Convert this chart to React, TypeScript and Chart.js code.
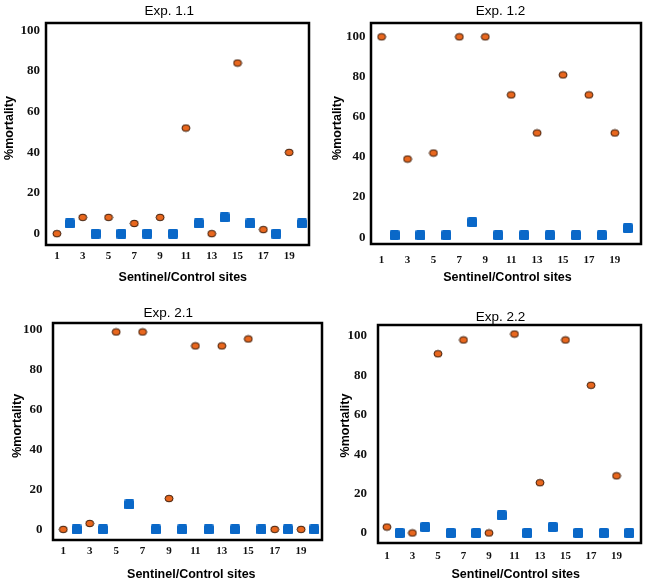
import React, { useEffect, useRef } from 'react';
import { Chart, registerables } from 'chart.js';

Chart.register(...registerables);

const W = 647;
const H = 582;

// ---- data ----
const sentinelSites = [1, 3, 5, 7, 9, 11, 13, 15, 17, 19];
const controlSites = [2, 4, 6, 8, 10, 12, 14, 16, 18, 20];
const xTickValues = [1, 3, 5, 7, 9, 11, 13, 15, 17, 19];
const yTickValues = [0, 20, 40, 60, 80, 100];

const exp11Sentinel = [0, 8, 8, 5, 8, 52, 0, 84, 2, 40];
const exp11Control = [5, 0, 0, 0, 0, 5, 8, 5, 0, 5];
const exp12Sentinel = [100, 39, 42, 100, 100, 71, 52, 81, 71, 52];
const exp12Control = [1, 1, 1, 7.5, 1, 1, 1, 1, 1, 4.5];
const exp21Sentinel = [0, 3, 99, 99, 15.5, 92, 92, 95.5, 0, 0];
const exp21Control = [0, 0, 12.5, 0, 0, 0, 0, 0, 0, 0];
const exp22Sentinel = [3, 0, 91, 98, 0, 101, 25.5, 98, 75, 29];
const exp22Control = [0, 3, 0, 0, 9, 0, 3, 0, 0, 0];

const yAxisTitle = '%mortality';
const xAxisTitle = 'Sentinel/Control sites';

// ---- layout / style ----
const ORANGE = '#E8671E';
const ORANGE_EDGE = '#3A1A08';
const BLUE = '#0A68C8';
const SANS = '"Liberation Sans", Arial, sans-serif';
const SERIF = '"Liberation Serif", "Times New Roman", serif';
const Y_AXIS_W = 40;
const X_AXIS_H = 25;

type PanelCfg = {
  title: string;
  sentinel: number[];
  control: number[];
  area: { l: number; t: number; r: number; b: number };
  x: { min: number; max: number };
  y: { min: number; max: number };
  yPad: number;
  xPad: number;
  titlePos: [number, number];
  yTitlePos: [number, number];
  xTitlePos: [number, number];
};

const panels: PanelCfg[] = [
  {
    title: 'Exp. 1.1', sentinel: exp11Sentinel, control: exp11Control,
    area: { l: 46, t: 23, r: 309, b: 245 }, x: { min: 0.155, max: 20.54 }, y: { min: -5.6, max: 103.7 },
    yPad: 6, xPad: 4.5, titlePos: [169.3, 14.7], yTitlePos: [9.5, 128], xTitlePos: [182.8, 280.5],
  },
  {
    title: 'Exp. 1.2', sentinel: exp12Sentinel, control: exp12Control,
    area: { l: 371, t: 23, r: 642, b: 244 }, x: { min: 0.18, max: 21.02 }, y: { min: -3.4, max: 106.9 },
    yPad: 5.5, xPad: 9.5, titlePos: [500.5, 15], yTitlePos: [338, 128], xTitlePos: [507.5, 281],
  },
  {
    title: 'Exp. 2.1', sentinel: exp21Sentinel, control: exp21Control,
    area: { l: 53, t: 323, r: 322, b: 540 }, x: { min: 0.22, max: 20.58 }, y: { min: -5.3, max: 103.5 },
    yPad: 10.5, xPad: 4.3, titlePos: [168.3, 316.7], yTitlePos: [18, 425.8], xTitlePos: [191.3, 578],
  },
  {
    title: 'Exp. 2.2', sentinel: exp22Sentinel, control: exp22Control,
    area: { l: 378, t: 325, r: 642, b: 543 }, x: { min: 0.3, max: 20.92 }, y: { min: -5.1, max: 105.6 },
    yPad: 11, xPad: 6.3, titlePos: [500.5, 320.6], yTitlePos: [345.8, 425.5], xTitlePos: [515.7, 577.5],
  },
];

function makeOrangeMarker(): HTMLCanvasElement {
  const c = document.createElement('canvas');
  c.width = 10;
  c.height = 9;
  const ctx = c.getContext('2d')!;
  ctx.beginPath();
  ctx.ellipse(5, 4.5, 4.0, 3.3, 0, 0, Math.PI * 2);
  ctx.fillStyle = ORANGE;
  ctx.fill();
  ctx.lineWidth = 1;
  ctx.strokeStyle = ORANGE_EDGE;
  ctx.stroke();
  return c;
}

function makeBlueMarker(): HTMLCanvasElement {
  const c = document.createElement('canvas');
  c.width = 10;
  c.height = 10;
  const ctx = c.getContext('2d')!;
  ctx.beginPath();
  const anyCtx = ctx as any;
  if (anyCtx.roundRect) anyCtx.roundRect(0, 0, 10, 10, 1.5);
  else ctx.rect(0, 0, 10, 10);
  ctx.fillStyle = BLUE;
  ctx.fill();
  return c;
}

const panelPlugin = {
  id: 'panelDeco',
  beforeDatasetsDraw(chart: any) {
    const { ctx, chartArea } = chart;
    ctx.save();
    ctx.lineWidth = 2.5;
    ctx.strokeStyle = '#000';
    ctx.strokeRect(chartArea.left, chartArea.top, chartArea.right - chartArea.left, chartArea.bottom - chartArea.top);
    ctx.restore();
  },
  afterDraw(chart: any, _args: any, opts: any) {
    const ctx = chart.ctx as CanvasRenderingContext2D;
    ctx.save();
    ctx.fillStyle = '#000';
    ctx.textAlign = 'center';
    ctx.textBaseline = 'alphabetic';
    ctx.font = `13.5px ${SANS}`;
    ctx.fillText(opts.title, opts.titlePos[0], opts.titlePos[1]);
    ctx.font = `bold 12.5px ${SANS}`;
    ctx.fillText(opts.xTitle, opts.xTitlePos[0], opts.xTitlePos[1]);
    ctx.translate(opts.yTitlePos[0], opts.yTitlePos[1]);
    ctx.rotate(-Math.PI / 2);
    ctx.textBaseline = 'middle';
    ctx.fillText(opts.yTitle, 0, 0);
    ctx.restore();
  },
};

function Panel({ p }: { p: PanelCfg }) {
  const ref = useRef<HTMLCanvasElement | null>(null);
  useEffect(() => {
    if (!ref.current) return;
    const orange = makeOrangeMarker();
    const blue = makeBlueMarker();
    const chart = new Chart(ref.current, {
      type: 'scatter',
      data: {
        datasets: [
          {
            label: 'Sentinel',
            data: sentinelSites.map((s, i) => ({ x: s, y: p.sentinel[i] })),
            pointStyle: orange as any,
            pointRadius: 5,
            showLine: false,
            clip: false as any,
          },
          {
            label: 'Control',
            data: controlSites.map((s, i) => ({ x: s, y: p.control[i] })),
            pointStyle: blue as any,
            pointRadius: 5,
            showLine: false,
            clip: false as any,
          },
        ],
      },
      options: {
        animation: false,
        responsive: false,
        devicePixelRatio: 1,
        layout: {
          padding: {
            left: p.area.l - Y_AXIS_W,
            top: p.area.t,
            right: W - p.area.r,
            bottom: H - p.area.b - X_AXIS_H,
          },
        },
        scales: {
          x: {
            type: 'linear',
            min: p.x.min,
            max: p.x.max,
            grid: { display: false, drawTicks: false },
            border: { display: false },
            ticks: {
              padding: p.xPad,
              color: '#111',
              font: { family: SERIF, size: 11, weight: 'bold' },
              maxRotation: 0,
              autoSkip: false,
              callback: (v: any) => String(v),
            },
            afterBuildTicks: (s: any) => {
              s.ticks = xTickValues.map((v) => ({ value: v }));
            },
            afterFit: (s: any) => {
              s.height = X_AXIS_H;
            },
          },
          y: {
            type: 'linear',
            min: p.y.min,
            max: p.y.max,
            grid: { display: false, drawTicks: false },
            border: { display: false },
            ticks: {
              padding: p.yPad,
              color: '#111',
              font: { family: SERIF, size: 13, weight: 'bold' },
              autoSkip: false,
              callback: (v: any) => String(v),
            },
            afterBuildTicks: (s: any) => {
              s.ticks = yTickValues.map((v) => ({ value: v }));
            },
            afterFit: (s: any) => {
              s.width = Y_AXIS_W;
            },
          },
        },
        plugins: {
          legend: { display: false },
          tooltip: { enabled: false },
          title: { display: false },
          panelDeco: {
            title: p.title,
            titlePos: p.titlePos,
            xTitle: xAxisTitle,
            xTitlePos: p.xTitlePos,
            yTitle: yAxisTitle,
            yTitlePos: p.yTitlePos,
          },
        } as any,
      },
      plugins: [panelPlugin as any],
    });
    return () => chart.destroy();
  }, [p]);
  return (
    <canvas
      ref={ref}
      width={W}
      height={H}
      style={{ position: 'absolute', left: 0, top: 0, width: W, height: H }}
    />
  );
}

export default function App() {
  return (
    <div style={{ position: 'absolute', left: 0, top: 0, width: W, height: H, background: '#fff' }}>
      {panels.map((p, i) => (
        <Panel key={i} p={p} />
      ))}
    </div>
  );
}
